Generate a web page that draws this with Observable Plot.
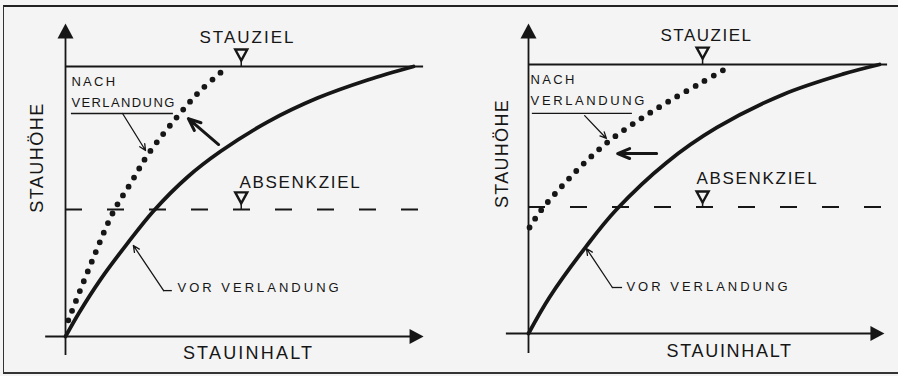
<!DOCTYPE html>
<html><head><meta charset="utf-8">
<script src="https://cdn.jsdelivr.net/npm/d3@7"></script>
<script src="https://cdn.jsdelivr.net/npm/@observablehq/plot@0.6"></script>
<style>
html,body{margin:0;padding:0;background:#f4f4f4;}
#wrap{position:relative;width:898px;height:376px;overflow:hidden;background:#f4f4f4;}
#frame{position:absolute;left:3px;top:5px;width:900px;height:369px;border-top:2px solid #222;border-left:1.5px solid #333;border-bottom:2px solid #333;box-sizing:border-box;}
.panel{position:absolute;top:0;}
</style></head><body><div id="wrap"><div id="frame"></div></div>
<script>
// ---- data (schematic values; units: % of full scale) ----
const stauziel = 100;
const absenkziel = 47;

const stauinhaltVorLinks  = [0, 4, 10, 17.8, 25.3, 35, 44.5, 58, 72.4, 86.8, 100];
const stauhoeheVorLinks   = [0, 9, 21, 34.5, 46.5, 59, 68.5, 79.4, 88.3, 95, 100];
const stauinhaltNachLinks = [0.8, 7.8, 13.8, 18.7, 23.9, 33.6, 38.8, 46];
const stauhoeheNachLinks  = [6, 28.5, 46.3, 56.7, 67.8, 83.7, 91.1, 99.3];

const stauinhaltVorRechts  = [0, 6, 16.5, 25, 39.3, 53.6, 72.4, 89.5, 100];
const stauhoeheVorRechts   = [0, 13.5, 32.5, 46, 63.5, 76.5, 88.8, 96.4, 100];
const stauinhaltNachRechts = [0.3, 3.4, 9.7, 16, 23.1, 31.6, 40.2, 49.6, 57.3];
const stauhoeheNachRechts  = [39.4, 45.5, 55, 63.5, 71.7, 79.5, 86.5, 93.5, 99.3];

const zielLabels  = ["STAUZIEL", "ABSENKZIEL"];
const kurvenLabels = ["NACH", "VERLANDUNG", "VOR VERLANDUNG"];
const achsenTitel = ["STAUINHALT", "STAUHÖHE"];

// ---- drawing ----
const ink = "#161616";
const bg = "#f4f4f4";
const font = "'Liberation Sans', Arial, sans-serif";

function tri(dir, w, h) { // anchor at tip
  return { draw(c) {
    if (dir === "up") { c.moveTo(0,0); c.lineTo(w/2,h); c.lineTo(-w/2,h); }
    else if (dir === "right") { c.moveTo(0,0); c.lineTo(-h,w/2); c.lineTo(-h,-w/2); }
    else { c.moveTo(0,0); c.lineTo(w/2,-h); c.lineTo(-w/2,-h); }
    c.closePath();
  }};
}

function panel(cfg) {
  const vor = cfg.vorX.map((x, i) => ({x, y: cfg.vorY[i]}));
  const nach = cfg.nachX.map((x, i) => ({x, y: cfg.nachY[i]}));
  const T = (t, x, y, size, anchor, rotate = 0) =>
    Plot.text([t], {x: () => x, y: () => y, text: d => d, fontSize: size, textAnchor: anchor,
      rotate, fill: ink, fontFamily: font});
  const svg = Plot.plot({
    width: 449, height: 376,
    marginLeft: cfg.mL, marginRight: cfg.mR, marginTop: cfg.mT, marginBottom: cfg.mB,
    x: {domain: [0, 100], axis: null},
    y: {domain: [0, 100], axis: null},
    style: {background: "transparent", overflow: "visible", fontFamily: font},
    marks: [
      // axes
      Plot.ruleY([0], {x1: cfg.xAxis[0], x2: cfg.xAxis[1] - 2, stroke: ink, strokeWidth: 1.8}),
      Plot.ruleX([0], {y1: cfg.yAxis[0], y2: cfg.yAxis[1] - 2, stroke: ink, strokeWidth: 1.8}),
      Plot.dot([0], {x: () => cfg.xAxis[1], y: () => 0, symbol: tri("right", 15, 14), r: 5, fill: ink, stroke: "none"}),
      Plot.dot([0], {x: () => 0, y: () => cfg.yAxis[1], symbol: tri("up", 16, 15), r: 5, fill: ink, stroke: "none"}),
      // levels
      Plot.ruleY([stauziel], {x1: 0, x2: cfg.stauEnd, stroke: ink, strokeWidth: 1.8}),
      Plot.ruleY([absenkziel], {x1: 0, x2: cfg.absEnd, stroke: ink, strokeWidth: 2, strokeDasharray: "17 25"}),
      // curves
      Plot.line(vor, {x: "x", y: "y", curve: "catmull-rom", stroke: ink, strokeWidth: 3.8}),
      Plot.line(nach, {x: "x", y: "y", curve: "catmull-rom", stroke: ink, strokeWidth: 5.8,
        strokeDasharray: "0 10.5", strokeLinecap: "round"}),
      // level markers
      Plot.ruleX([cfg.triX], {y1: cfg.triApex[0], y2: stauziel, stroke: ink, strokeWidth: 1.5}),
      Plot.ruleX([cfg.triX], {y1: cfg.triApex[1], y2: absenkziel, stroke: ink, strokeWidth: 1.5}),
      Plot.dot([cfg.triApex[0], cfg.triApex[1]], {x: () => cfg.triX, y: d => d, symbol: tri("down", 12, 11), r: 5,
        fill: bg, stroke: ink, strokeWidth: 2.4}),
      // annotations
      Plot.ruleY([cfg.underline[2]], {x1: cfg.underline[0], x2: cfg.underline[1], stroke: ink, strokeWidth: 1.3}),
      Plot.arrow([0], {x1: () => cfg.leadNach[0], y1: () => cfg.leadNach[1], x2: () => cfg.leadNach[2], y2: () => cfg.leadNach[3],
        stroke: ink, strokeWidth: 1.3, headLength: 8, headAngle: 50}),
      Plot.arrow([0], {x1: () => cfg.shift[0], y1: () => cfg.shift[1], x2: () => cfg.shift[2], y2: () => cfg.shift[3],
        stroke: ink, strokeWidth: 3, headLength: 12, headAngle: 45}),
      Plot.arrow([0], {x1: () => cfg.leadVor[2], y1: () => cfg.leadVor[3], x2: () => cfg.leadVor[0], y2: () => cfg.leadVor[1],
        stroke: ink, strokeWidth: 1.3, headLength: 8, headAngle: 50}),
      Plot.ruleY([cfg.leadVor[3]], {x1: cfg.leadVor[2], x2: cfg.leadVor[4], stroke: ink, strokeWidth: 1.3}),
      // texts
      T(zielLabels[0], cfg.tStau[0], cfg.tStau[1], 17, "middle"),
      T(zielLabels[1], cfg.tAbs[0], cfg.tAbs[1], 17, "middle"),
      T(kurvenLabels[0], cfg.tNach[0], cfg.tNach[1], 13, "start"),
      T(kurvenLabels[1], cfg.tNach[0], cfg.tNach[2], 13, "start"),
      T(kurvenLabels[2], cfg.tVor[0], cfg.tVor[1], 13, "start"),
      T(achsenTitel[0], cfg.tX[0], cfg.tX[1], 18, "middle"),
      T(achsenTitel[1], cfg.tY[0], cfg.tY[1], 18, "middle", -90)
    ]
  });
  d3.select(svg).selectAll("text").each(function() {
    const s = cfg.spacing[this.textContent];
    if (s != null) this.setAttribute("letter-spacing", s);
  });
  svg.classList.add("panel");
  svg.style.left = cfg.left + "px";
  document.getElementById("wrap").appendChild(svg);
}

panel({
  left: 0, mL: 65, mR: 36, mT: 66, mB: 40,
  vorX: stauinhaltVorLinks, vorY: stauhoeheVorLinks,
  nachX: stauinhaltNachLinks, nachY: stauhoeheNachLinks,
  xAxis: [-5.7, 102.9], yAxis: [-7, 115.9],
  stauEnd: 102.9, absEnd: 102,
  triX: 50.5, triApex: [102.2, 49.3],
  underline: [1.7, 31, 82.6],
  leadNach: [16.4, 82.6, 23, 68.9],
  shift: [44, 71.1, 35.3, 80.7],
  leadVor: [19.5, 33.7, 28.2, 17, 30.7],
  tStau: [52.3, 110.7], tAbs: [67.5, 57], tNach: [1.7, 94.4, 86.7], tVor: [32.2, 18.1],
  tX: [52.6, -6.3], tY: [-8, 66.3],
  spacing: {"STAUZIEL": 2, "ABSENKZIEL": 1.7, "STAUINHALT": 2.2, "STAUHÖHE": 1.5,
            "NACH": 2.3, "VERLANDUNG": 1.4, "VOR VERLANDUNG": 3}
});

panel({
  left: 449, mL: 79, mR: 19, mT: 64, mB: 43,
  vorX: stauinhaltVorRechts, vorY: stauhoeheVorRechts,
  nachX: stauinhaltNachRechts, nachY: stauhoeheNachRechts,
  xAxis: [-6.3, 101.4], yAxis: [-7.4, 115.2],
  stauEnd: 102.3, absEnd: 100.9,
  triX: 49.6, triApex: [102.2, 48.7],
  underline: [1.1, 29.6, 81.8],
  leadNach: [16, 81, 22.2, 72.5],
  shift: [36.5, 66.9, 25.4, 66.9],
  leadVor: [16.5, 31.6, 23.9, 17.1, 26.8],
  tStau: [50.7, 110.8], tAbs: [65.2, 57.6], tNach: [0.6, 94.4, 86.6], tVor: [27.9, 17.5],
  tX: [57.3, -6.7], tY: [-7.4, 66.9],
  spacing: {"STAUZIEL": 1.5, "ABSENKZIEL": 1.7, "STAUINHALT": 1.7, "STAUHÖHE": 1.3,
            "NACH": 2.3, "VERLANDUNG": 2.6, "VOR VERLANDUNG": 3}
});
</script></body></html>
